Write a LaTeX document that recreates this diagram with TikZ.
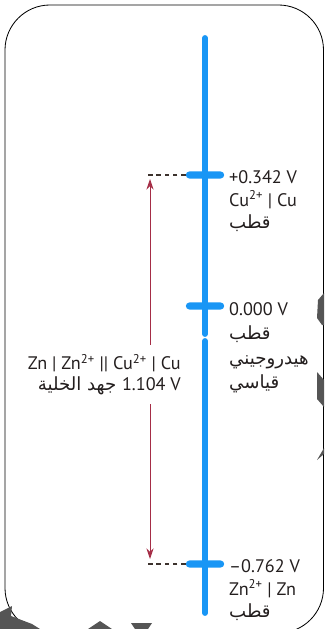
\documentclass[tikz,border=0pt]{standalone}
\usepackage{fontspec}
\setmainfont{PT Sans}
\newfontfamily\arabicfont[Script=Arabic]{DejaVu Sans}
\TeXXeTstate=1
\usetikzlibrary{arrows.meta}
\definecolor{axisblue}{RGB}{25,150,245}
\definecolor{cellred}{RGB}{165,45,70}
\definecolor{dashgray}{RGB}{60,50,45}
\definecolor{edgegray}{RGB}{85,85,85}
\definecolor{textgray}{RGB}{35,30,30}
\newcommand{\arb}[1]{{\arabicfont\beginR #1\endR}}

\begin{document}
\begin{tikzpicture}[x=0.03cm, y=-0.03cm,
    tickbar/.style={rectangle, fill=axisblue, rounded corners=3pt, minimum width=1.15cm, minimum height=6pt, inner sep=0pt},
    axis/.style={axisblue, line width=5pt, line cap=round},
    lbl/.style={anchor=north west, align=left, inner sep=0pt, text=textgray, font=\fontsize{15.5}{19.5}\selectfont},
    dashline/.style={dashgray, line width=0.9pt, dash pattern=on 4pt off 3pt},
    arrow/.style={<->, cellred, line width=0.8pt, >={Stealth[length=9pt, width=6pt]}}]

    \clip (0,0) rectangle (324,629);
    \useasboundingbox (0,0) rectangle (324,629);

    % 边框
    \draw[line width=0.7pt, rounded corners=1.35cm] (5,5) rectangle (323.5,633);
    \fill[edgegray] (324,293) -- (318,300) -- (317,318) -- (322,325) -- (324,325) -- cycle;
    \fill[edgegray] (317,372) -- (324,380) -- (324,407) -- (317,399) -- cycle;
    \fill[edgegray] (317,460) -- (324,448) -- (324,454) -- cycle;
    \fill[edgegray] (0,612) -- (12,606) -- (11,616) -- (32,624) -- (40,629) -- (0,629) -- cycle;
    \fill[edgegray] (88,629) -- (100,621) -- (112,629) -- cycle;
    \fill[edgegray] (131,623) -- (152,623) -- (148,629) -- (135,629) -- cycle;

    % 刻度
    \coordinate (top) at (205,38);
    \coordinate (gapA) at (205,334);
    \coordinate (gapB) at (205,341);
    \coordinate (bot) at (205,613);
    \draw[axis] (top) -- (gapA);
    \draw[axis] (gapB) -- (bot);
    \node[tickbar] (cu) at (205,175) {};
    \node[tickbar] (hyd) at (205,306) {};
    \node[tickbar] (zn) at (205,564) {};

    % 虚线与箭头
    \coordinate (cuL) at (146,175);
    \coordinate (znL) at (146,564);
    \draw[dashline] (cu.west) -- (cuL);
    \draw[dashline] (zn.west) -- (znL);
    \draw[arrow] ([xshift=4*0.03cm, yshift=-4*0.03cm]cuL) -- ([xshift=4*0.03cm, yshift=5*0.03cm]znL);

    % 标注
    \node[lbl] (cuT) at (229,170) {+0.342 V\\Cu\textsuperscript{2+} | Cu\\\arb{قطب}};
    \node[lbl, font=\fontsize{15.5}{21}\selectfont] (hydT) at (229,302) {0.000 V\\\arb{قطب}\\\arb{هيدروجيني}\\\arb{قياسي}};
    \node[lbl] (znT) at (229,559) {–0.762 V\\Zn\textsuperscript{2+} | Zn\\\arb{قطب}};
    \node[lbl, anchor=north east, align=right, fill=white, inner ysep=8pt, font=\fontsize{15.5}{17.5}\selectfont] (cell) at (181,345)
        {Zn | Zn\textsuperscript{2+} || Cu\textsuperscript{2+} | Cu\\{\arabicfont\beginR\beginL\textrm{1.104 V}\endL{} جهد الخلية\endR}};
\end{tikzpicture}
\end{document}
